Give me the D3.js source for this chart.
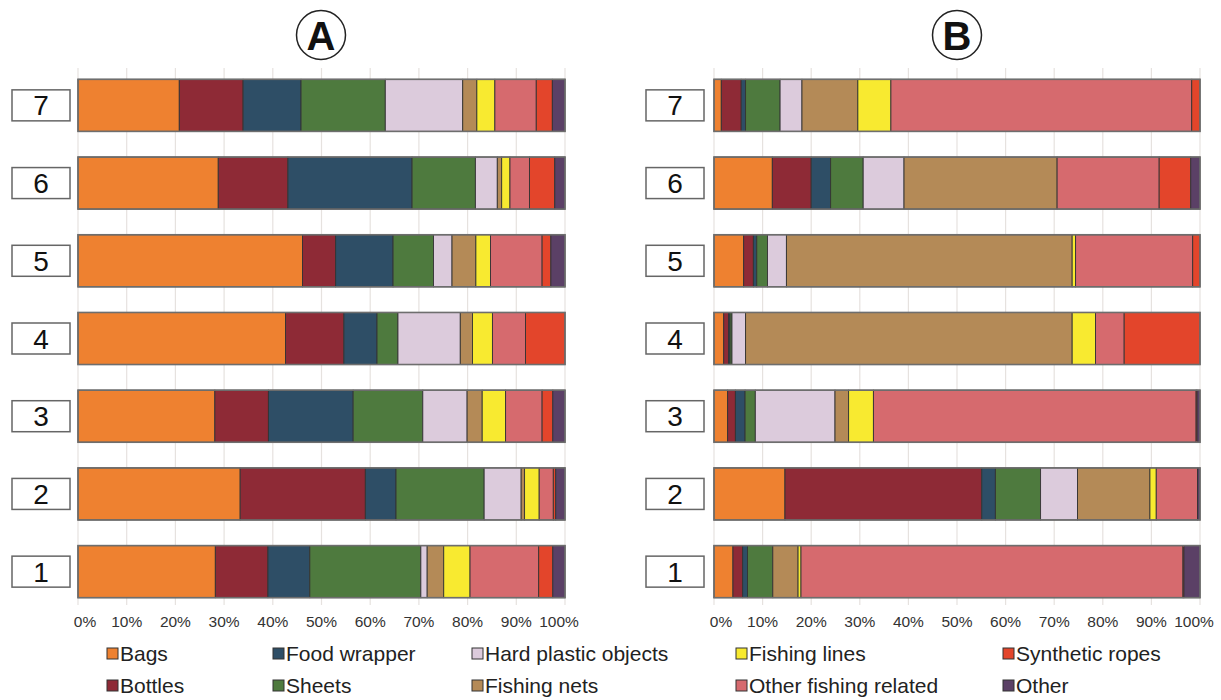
<!DOCTYPE html>
<html>
<head>
<meta charset="utf-8">
<script src="https://cdn.jsdelivr.net/npm/d3@7"></script>
<style>
  html, body { margin: 0; padding: 0; background: #fff; }
  svg { display: block; font-family: "Liberation Sans", Arial, Helvetica, sans-serif; }
</style>
</head>
<body>
<svg id="chart" width="1221" height="700"></svg>
<script>
// Litter categories, in stacking order (left to right inside each bar)
const categories = ["Bags", "Bottles", "Food wrapper", "Sheets", "Hard plastic objects",
  "Fishing nets", "Fishing lines", "Other fishing related", "Synthetic ropes", "Other"];
const colors = ["#ee8130", "#8e2a36", "#2e4e66", "#4e7a3e", "#dccbdc",
  "#b48a57", "#f8ea30", "#d66a6e", "#e3452b", "#5b4066"];

// Sites, listed top to bottom
const sites = ["7", "6", "5", "4", "3", "2", "1"];

// Share (%) of each category per site, same order as `sites`
const panelA = [
  [20.8, 13.1, 11.9, 17.3, 15.9, 2.9, 3.7, 8.5, 3.3, 2.6],
  [28.8, 14.3, 25.5, 13.0, 4.5, 0.9, 1.7, 4.0, 5.2, 2.1],
  [46.1, 6.8, 11.8, 8.3, 3.8, 4.9, 3.0, 10.6, 1.8, 2.9],
  [42.6, 12.0, 6.8, 4.3, 12.8, 2.5, 4.1, 6.8, 8.1, 0.0],
  [28.1, 11.0, 17.4, 14.3, 9.1, 3.1, 4.8, 7.5, 2.2, 2.5],
  [33.3, 25.7, 6.3, 18.1, 7.6, 0.7, 3.0, 2.9, 0.5, 1.9],
  [28.2, 10.8, 8.6, 22.8, 1.3, 3.4, 5.4, 14.1, 2.9, 2.5]
];
const panelB = [
  [1.5, 4.1, 0.9, 7.1, 4.5, 11.5, 6.8, 61.9, 1.7, 0.0],
  [12.0, 8.0, 4.0, 6.7, 8.4, 31.5, 0.0, 21.0, 6.5, 1.9],
  [6.1, 2.0, 0.7, 2.2, 3.9, 58.8, 0.7, 24.1, 1.5, 0.0],
  [2.0, 1.0, 0.3, 0.4, 2.8, 67.2, 4.8, 5.9, 15.6, 0.0],
  [2.8, 1.6, 2.0, 2.1, 16.4, 2.8, 5.1, 66.4, 0.2, 0.6],
  [14.6, 40.5, 2.8, 9.3, 7.6, 14.9, 1.3, 8.5, 0.0, 0.5],
  [3.9, 2.0, 1.0, 5.2, 0.0, 5.2, 0.6, 78.6, 0.2, 3.3]
];

const tickValues = [0, 10, 20, 30, 40, 50, 60, 70, 80, 90, 100];

const svg = d3.select("#chart");
const color = d3.scaleOrdinal().domain(categories).range(colors);

const y = d3.scaleBand()
  .domain(sites)
  .range([66.5, 610.5])
  .paddingInner(0.33)
  .paddingOuter(0.165);

const stack = d3.stack().keys(categories);

function drawPanel(letter, values, x0, x1, boxX, cx) {
  const x = d3.scaleLinear().domain([0, 100]).range([x0, x1]);
  const g = svg.append("g");

  // vertical grid
  g.selectAll("line.grid")
    .data(tickValues)
    .join("line")
    .attr("class", "grid")
    .attr("x1", d => x(d)).attr("x2", d => x(d))
    .attr("y1", 68).attr("y2", 605)
    .attr("stroke", "#e6e2df")
    .attr("stroke-width", 1.2);

  // tick labels
  g.selectAll("text.tick")
    .data(tickValues)
    .join("text")
    .attr("class", "tick")
    .attr("x", d => x(d) + (d === 0 ? 7 : d === 100 ? -6 : 0))
    .attr("y", 627)
    .attr("text-anchor", "middle")
    .attr("font-size", 15.5)
    .attr("fill", "#333")
    .text(d => d + "%");

  const rows = values.map((v, i) => {
    const o = { site: sites[i] };
    categories.forEach((c, j) => { o[c] = v[j]; });
    return o;
  });
  const series = stack(rows);

  g.selectAll("g.layer")
    .data(series)
    .join("g")
    .attr("class", "layer")
    .attr("fill", d => color(d.key))
    .selectAll("rect")
    .data(d => d.filter(s => s[1] - s[0] > 0))
    .join("rect")
    .attr("x", d => x(d[0]))
    .attr("width", d => x(d[1]) - x(d[0]))
    .attr("y", d => y(d.data.site))
    .attr("height", y.bandwidth())
    .attr("stroke", "#333")
    .attr("stroke-width", 0.9);

  // bar outlines
  g.selectAll("rect.outline")
    .data(sites)
    .join("rect")
    .attr("class", "outline")
    .attr("x", x(0)).attr("width", x(100) - x(0))
    .attr("y", d => y(d)).attr("height", y.bandwidth())
    .attr("fill", "none")
    .attr("stroke", "#6e6e6e")
    .attr("stroke-width", 1.6);

  // site label boxes
  const lab = g.selectAll("g.site")
    .data(sites)
    .join("g")
    .attr("class", "site")
    .attr("transform", d => `translate(${boxX},${y(d) + y.bandwidth() / 2})`);
  lab.append("rect")
    .attr("x", 0).attr("y", -15.5)
    .attr("width", 58).attr("height", 31)
    .attr("fill", "#fff")
    .attr("stroke", "#666")
    .attr("stroke-width", 1.5);
  lab.append("text")
    .attr("x", 29).attr("y", 10)
    .attr("text-anchor", "middle")
    .attr("font-size", 28)
    .attr("fill", "#111")
    .text(d => d);

  // circled panel letter
  g.append("circle")
    .attr("cx", cx).attr("cy", 35).attr("r", 24.5)
    .attr("fill", "none")
    .attr("stroke", "#222")
    .attr("stroke-width", 1.5);
  g.append("text")
    .attr("x", cx).attr("y", 50)
    .attr("text-anchor", "middle")
    .attr("font-size", 40)
    .attr("font-weight", "bold")
    .attr("fill", "#111")
    .text(letter);
}

drawPanel("A", panelA, 78, 565, 12, 321);
drawPanel("B", panelB, 714, 1200, 646, 957);

// legend: two rows, five columns
const legendCols = [107, 273, 472, 736, 1003];
const legend = svg.append("g")
  .selectAll("g")
  .data(categories)
  .join("g")
  .attr("transform", (d, i) => `translate(${legendCols[Math.floor(i / 2)]},${648 + (i % 2) * 32})`);
legend.append("rect")
  .attr("width", 11).attr("height", 11)
  .attr("fill", d => color(d))
  .attr("stroke", "#333")
  .attr("stroke-width", 1);
legend.append("text")
  .attr("x", 13).attr("y", 13)
  .attr("font-size", 21)
  .attr("fill", "#222")
  .text(d => d);
</script>
</body>
</html>
